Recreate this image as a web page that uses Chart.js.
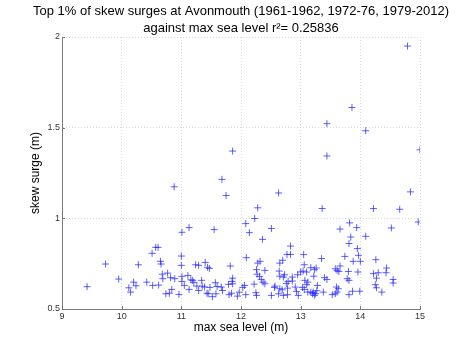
<!DOCTYPE html>
<html><head><meta charset="utf-8">
<script src="https://cdn.jsdelivr.net/npm/chart.js@4"></script>
<style>html,body{margin:0;padding:0;background:#fff}#wrap{width:465px;height:350px}</style>
</head><body><div id="wrap"><canvas id="c" width="465" height="350"></canvas></div>
<script>
const titleLines = ['Top 1% of skew surges at Avonmouth (1961-1962, 1972-76, 1979-2012)', 'against max sea level r\u00B2= 0.25836'];
const xAxisTitle = 'max sea level (m)';
const yAxisTitle = 'skew surge (m)';
const xTickValues = [9, 10, 11, 12, 13, 14, 15];
const xTickLabels = ['9', '10', '11', '12', '13', '14', '15'];
const yTickValues = [0.5, 1, 1.5, 2];
const yTickLabels = ['0.5', '1', '1.5', '2'];

const seaLevel = [
  9.42, 9.73, 9.95,
  10.12, 10.15, 10.20, 10.24, 10.28, 10.42, 10.51, 10.52, 10.57, 10.61, 10.62, 10.65, 10.66, 10.68, 10.69, 10.74, 10.77, 10.80, 10.82, 10.84, 10.88, 10.89, 10.96, 11.00, 11.00,
  11.01, 11.01, 11.01, 11.05, 11.11, 11.13, 11.13, 11.16, 11.19, 11.21, 11.24, 11.26, 11.29, 11.29, 11.34, 11.35, 11.39, 11.40, 11.43, 11.44, 11.45, 11.47, 11.48, 11.52, 11.55, 11.57, 11.58, 11.60, 11.67, 11.68, 11.69, 11.75, 11.79, 11.80, 11.82, 11.84, 11.85, 11.86, 11.86, 11.86, 11.94, 11.97,
  12.03, 12.06, 12.08, 12.08, 12.09, 12.14, 12.22, 12.23, 12.25, 12.26, 12.26, 12.27, 12.28, 12.28, 12.31, 12.32, 12.34, 12.36, 12.37, 12.40, 12.40, 12.51, 12.51, 12.56, 12.57, 12.63, 12.63, 12.64, 12.65, 12.65, 12.65, 12.69, 12.70, 12.71, 12.71, 12.73, 12.76, 12.77, 12.78, 12.78, 12.79, 12.83, 12.83, 12.86, 12.86, 12.91, 12.93, 12.95, 12.96,
  13.00, 13.03, 13.04, 13.05, 13.06, 13.06, 13.07, 13.10, 13.10, 13.12, 13.12, 13.17, 13.17, 13.20, 13.21, 13.22, 13.23, 13.23, 13.25, 13.26, 13.27, 13.28, 13.35, 13.36, 13.38, 13.40, 13.44, 13.44, 13.44, 13.53, 13.58, 13.58, 13.60, 13.61, 13.61, 13.63, 13.64, 13.66, 13.66, 13.74, 13.78, 13.80, 13.81, 13.81, 13.81, 13.82, 13.84, 13.86, 13.87, 13.88, 13.94, 13.95, 13.96, 13.97, 13.99, 14.00,
  14.09, 14.09, 14.22, 14.22, 14.25, 14.26, 14.27, 14.27, 14.30, 14.36, 14.43, 14.44, 14.52, 14.55, 14.55, 14.66, 14.79, 14.84, 14.97, 15.00
];
const skewSurge = [
  0.623, 0.748, 0.665,
  0.617, 0.593, 0.648, 0.628, 0.744, 0.648, 0.807, 0.630, 0.840, 0.840, 0.632, 0.763, 0.748, 0.692, 0.667, 0.584, 0.698, 0.587, 0.673, 0.608, 1.174, 0.667, 0.580, 0.792, 0.741,
  0.923, 0.680, 0.652, 0.630, 0.685, 0.949, 0.608, 0.661, 0.658, 0.647, 0.744, 0.626, 0.741, 0.602, 0.658, 0.626, 0.621, 0.757, 0.587, 0.730, 0.584, 0.724, 0.619, 0.568, 0.938, 0.645, 0.584, 0.624, 0.621, 1.215, 0.602, 1.126, 0.636, 0.579, 0.737, 0.587, 0.652, 0.670, 0.639, 1.371, 0.571, 0.593,
  0.619, 0.630, 0.579, 0.971, 0.783, 0.921, 0.637, 0.999, 0.590, 0.575, 0.717, 0.692, 1.058, 0.753, 0.680, 0.763, 0.662, 0.884, 0.648, 0.639, 0.713, 0.944, 0.575, 0.619, 0.626, 1.140, 0.584, 0.709, 0.612, 0.681, 0.753, 0.606, 0.769, 0.575, 0.676, 0.689, 0.641, 0.801, 0.615, 0.579, 0.652, 0.801, 0.847, 0.676, 0.654, 0.621, 0.597, 0.689, 0.575,
  0.704, 0.619, 0.709, 0.800, 0.744, 0.608, 0.658, 0.704, 0.634, 0.648, 0.593, 0.728, 0.593, 0.584, 0.593, 0.681, 0.717, 0.575, 0.584, 0.726, 0.601, 0.630, 0.778, 1.054, 0.593, 0.673, 0.663, 1.522, 1.344, 0.579, 0.722, 0.584, 0.621, 0.713, 0.593, 0.612, 0.707, 0.737, 0.941, 0.790, 0.667, 0.707, 0.658, 0.579, 0.861, 0.975, 0.897, 1.611, 0.598, 0.763, 0.949, 0.833, 0.704, 0.796, 0.598, 0.763,
  0.901, 1.483, 1.054, 0.695, 0.634, 0.772, 0.670, 0.617, 0.700, 0.593, 0.700, 0.726, 0.947, 0.663, 0.643, 1.050, 1.950, 1.146, 0.980, 1.378
];

const points = seaLevel.map((x, i) => ({x: x, y: skewSurge[i]}));
const FONT = '"Liberation Sans", Arial, Helvetica, sans-serif';

const titlePlugin = {
  id: 'matlabTitle',
  afterDraw(chart) {
    const ctx = chart.ctx, a = chart.chartArea;
    const cx = (a.left + a.right) / 2;
    ctx.save();
    ctx.fillStyle = '#000';
    ctx.font = '13px ' + FONT;
    ctx.textAlign = 'center';
    ctx.textBaseline = 'middle';
    ctx.fillText(titleLines[0], cx, 11);
    ctx.fillText(titleLines[1], cx, 28);
    // solid axis lines and inward tick marks
    ctx.strokeStyle = '#7a7a7a';
    ctx.lineWidth = 1;
    ctx.beginPath();
    ctx.moveTo(a.left + 0.5, a.top); ctx.lineTo(a.left + 0.5, a.bottom + 0.5); ctx.lineTo(a.right, a.bottom + 0.5);
    ctx.stroke();
    const xs = chart.scales.x, ys = chart.scales.y;
    xTickValues.forEach(v => {
      const px = Math.round(xs.getPixelForValue(v)) + 0.5;
      ctx.beginPath(); ctx.moveTo(px, a.bottom); ctx.lineTo(px, a.bottom - 3); ctx.stroke();
    });
    yTickValues.forEach(v => {
      const py = Math.round(ys.getPixelForValue(v)) + 0.5;
      ctx.beginPath(); ctx.moveTo(a.left, py); ctx.lineTo(a.left + 3, py); ctx.stroke();
    });
    ctx.restore();
  }
};

new Chart(document.getElementById('c'), {
  type: 'scatter',
  data: {
    datasets: [{
      data: points,
      pointStyle: 'cross',
      pointRadius: 3.5,
      pointHoverRadius: 3.5,
      borderWidth: 1,
      borderColor: 'rgba(30,30,255,0.7)',
      backgroundColor: 'rgba(30,30,255,0.7)'
    }]
  },
  options: {
    responsive: false,
    animation: false,
    layout: {padding: {top: 37, right: 45, left: 0, bottom: 0}},
    plugins: {legend: {display: false}, tooltip: {enabled: false}, title: {display: false}},
    scales: {
      x: {
        type: 'linear', min: 9, max: 15,
        afterBuildTicks: s => { s.ticks = xTickValues.map(v => ({value: v})); },
        afterFit: s => { s.height = 41; },
        ticks: {
          callback: (v) => xTickLabels[xTickValues.indexOf(v)],
          font: {size: 9, family: FONT}, color: '#333', padding: 2, maxRotation: 0
        },
        grid: {color: '#d9d9d9', drawTicks: false, lineWidth: 1},
        border: {color: '#8a8a8a', width: 1, dash: [1, 2]},
        title: {display: true, text: xAxisTitle, font: {size: 12, family: FONT}, color: '#000', padding: {top: 0, bottom: 15}}
      },
      y: {
        type: 'linear', min: 0.5, max: 2,
        afterBuildTicks: s => { s.ticks = yTickValues.map(v => ({value: v})); },
        afterFit: s => { s.width = 62; },
        ticks: {
          callback: (v) => yTickLabels[yTickValues.indexOf(v)],
          font: {size: 9, family: FONT}, color: '#333', padding: 2
        },
        grid: {color: '#d9d9d9', drawTicks: false, lineWidth: 1},
        border: {color: '#8a8a8a', width: 1, dash: [1, 2]},
        title: {display: true, text: yAxisTitle, font: {size: 12, family: FONT}, color: '#000', padding: {top: 28, bottom: 0}}
      }
    }
  },
  plugins: [titlePlugin]
});
</script>
</body></html>
